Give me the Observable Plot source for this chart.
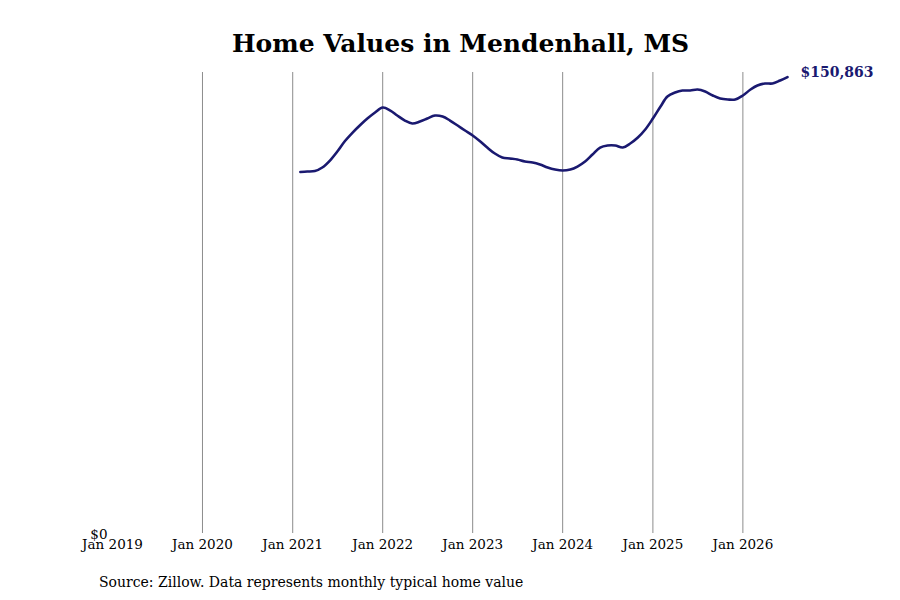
<!DOCTYPE html>
<html>
<head>
<meta charset="utf-8">
<script src="https://cdn.jsdelivr.net/npm/d3@7"></script>
<script src="https://cdn.jsdelivr.net/npm/@observablehq/plot@0.6"></script>
<style>
  html, body { margin: 0; padding: 0; background: #fff; }
  body { width: 900px; height: 600px; overflow: hidden; font-family: "DejaVu Serif", serif; color: #000; }
  #title { height: 60px; box-sizing: border-box; padding-top: 28px; padding-left: 21px; text-align: center; font-size: 25px; font-weight: bold; line-height: 32px; }
  #caption { padding-left: 99px; padding-top: 13px; font-size: 14px; line-height: 18px; }
  svg { display: block; }
</style>
</head>
<body>
<div id="title">Home Values in Mendenhall, MS</div>
<div id="chart"></div>
<div id="caption">Source: Zillow. Data represents monthly typical home value</div>
<script>
// Monthly typical home values, Feb 2021 – Jul 2026
const startMonth = "2021-02";
const values = [
  119476, 119641, 119806, 120963, 123276, 126251, 129721, 132530, 134943, 137224, 139140,
  140793, 139802, 138149, 136497, 135505, 136166, 137158, 138149, 137819, 136497, 134844, 133192,
  131539, 129556, 127573, 125590, 124268, 123938, 123607, 122946, 122616, 121955, 120963, 120302,
  119972, 120302, 121294, 122946, 125260, 127573, 128234, 128234, 127573, 128895, 130878, 133522,
  137158, 141124, 144429, 145751, 146412, 146412, 146742, 146081, 144759, 143768, 143437, 143437,
  144759, 146742, 148064, 148725, 148725, 149717, 150863
];
const xDomainStart = "2019-01";
const tickYears = [2019, 2020, 2021, 2022, 2023, 2024, 2025, 2026];
const gridYears = [2020, 2021, 2022, 2023, 2024, 2025, 2026];
const lineColor = "#1a1970";

const parseMonth = d3.utcParse("%Y-%m");
const start = parseMonth(startMonth);
const data = values.map((v, i) => ({date: d3.utcMonth.offset(start, i), value: v}));
const last = data[data.length - 1];
const maxVal = d3.max(values);
const yearDate = y => new Date(Date.UTC(y, 0, 1));

const chart = Plot.plot({
  width: 900,
  height: 500,
  marginLeft: 112,
  marginRight: 113,
  marginTop: 12,
  marginBottom: 27,
  style: {fontFamily: "DejaVu Serif", fontSize: "13.5px", color: "#000", background: "#fff"},
  x: {
    type: "utc",
    domain: [parseMonth(xDomainStart), last.date],
    label: null
  },
  y: {
    domain: [0, maxVal * 1.01],
    label: null
  },
  marks: [
    Plot.ruleX(gridYears.map(yearDate), {stroke: "#8c8c8c", strokeWidth: 1}),
    Plot.axisY({ticks: [0], tickFormat: d => "$" + d, tickSize: 0, tickPadding: 5, dy: 1}),
    Plot.axisX({ticks: tickYears.map(yearDate), tickFormat: d3.utcFormat("Jan %Y"), tickSize: 0, tickPadding: 6}),
    Plot.line(data, {x: "date", y: "value", stroke: lineColor, strokeWidth: 2.6, curve: "catmull-rom"}),
    Plot.text([last], {x: "date", y: "value", text: d => "$" + d3.format(",")(d.value), textAnchor: "start", dx: 13, dy: -5, fill: lineColor, fontWeight: "bold", fontSize: 14})
  ]
});
document.getElementById("chart").appendChild(chart);
</script>
</body>
</html>
